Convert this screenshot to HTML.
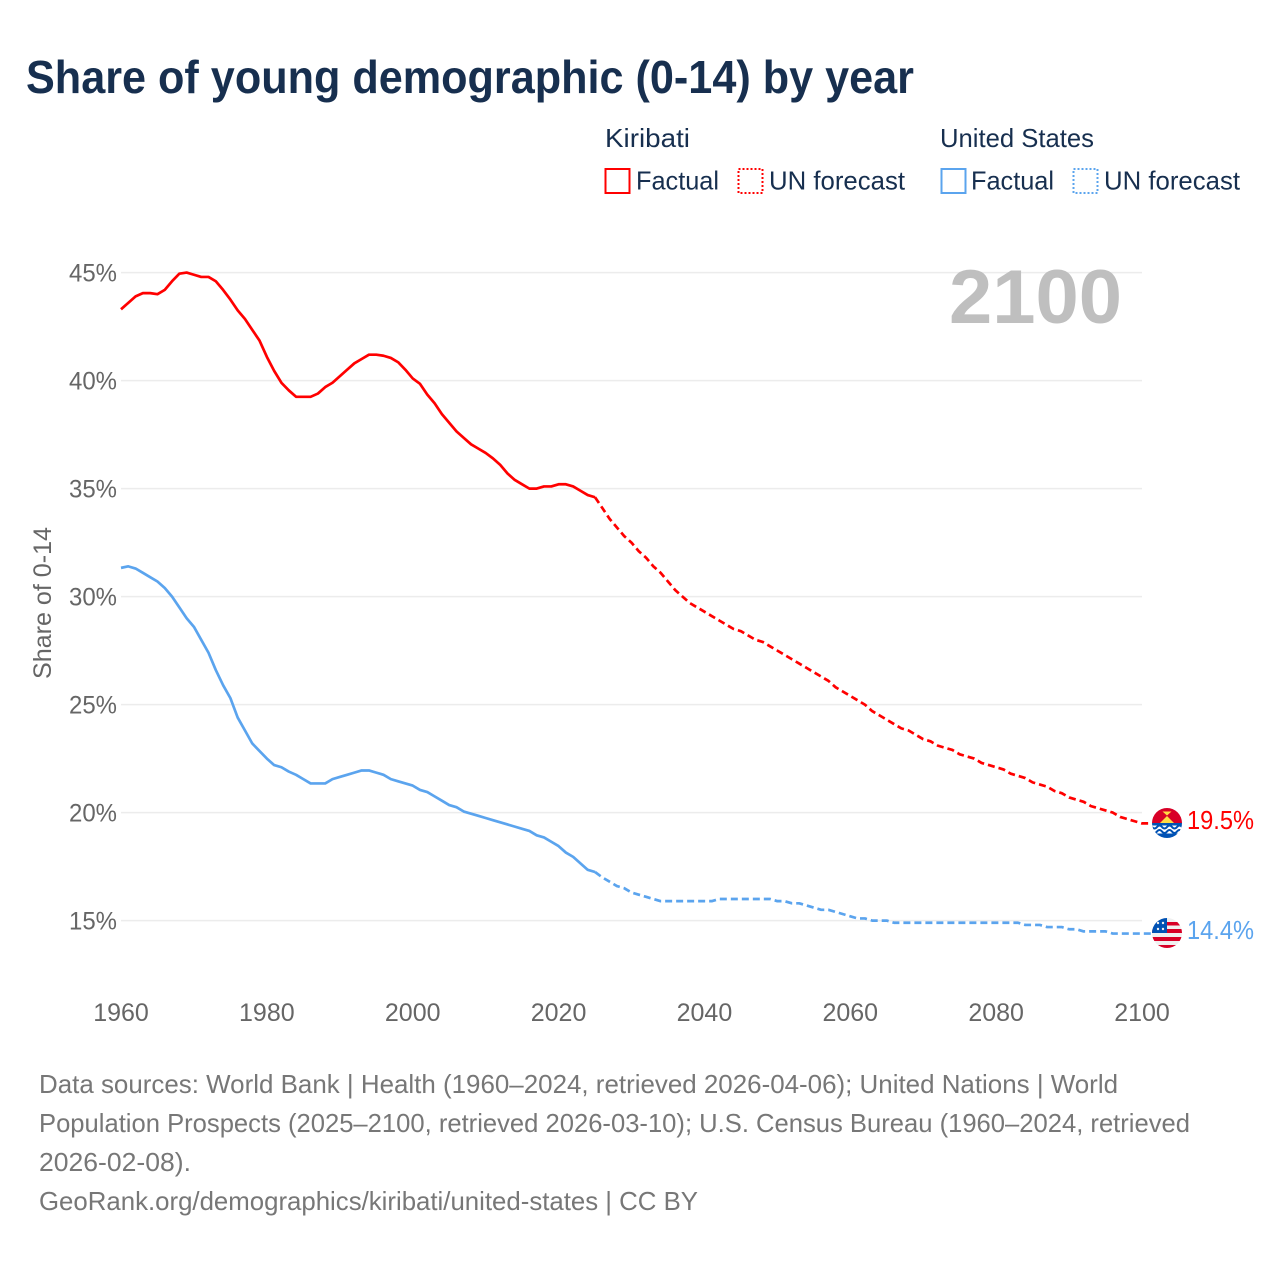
<!DOCTYPE html>
<html lang="en">
<head>
<meta charset="utf-8">
<title>Share of young demographic (0-14) by year</title>
<style>
html,body{margin:0;padding:0;background:#fff;}
svg{display:block;font-family:"Liberation Sans",sans-serif;}
</style>
</head>
<body>
<svg id="chart" xmlns="http://www.w3.org/2000/svg" width="1280" height="1280" viewBox="0 0 1280 1280">
  <defs>
    <clipPath id="clip-ki"><circle cx="1167" cy="823" r="15"/></clipPath>
    <clipPath id="clip-us"><circle cx="1167" cy="933" r="15"/></clipPath>
  </defs>
  <rect x="0" y="0" width="1280" height="1280" fill="#fff"/>
  <text x="26" y="93" font-size="46" font-weight="700" fill="#172f4f" textLength="888" lengthAdjust="spacingAndGlyphs">Share of young demographic (0-14) by year</text>

  <g font-size="26" fill="#172f4f">
    <text x="605" y="147" textLength="85" lengthAdjust="spacingAndGlyphs">Kiribati</text>
    <rect x="605.5" y="169" width="24" height="24" fill="none" stroke="#ff0000" stroke-width="2"/>
    <text x="636" y="189.5" textLength="83" lengthAdjust="spacingAndGlyphs">Factual</text>
    <rect x="738.5" y="169" width="24" height="24" fill="none" stroke="#ff0000" stroke-width="2" stroke-dasharray="2 2"/>
    <text x="769" y="189.5" textLength="136" lengthAdjust="spacingAndGlyphs">UN forecast</text>
    <text x="940" y="147" textLength="154" lengthAdjust="spacingAndGlyphs">United States</text>
    <rect x="941.5" y="169" width="24" height="24" fill="none" stroke="#5ba4ee" stroke-width="2"/>
    <text x="971" y="189.5" textLength="83" lengthAdjust="spacingAndGlyphs">Factual</text>
    <rect x="1073.5" y="169" width="24" height="24" fill="none" stroke="#5ba4ee" stroke-width="2" stroke-dasharray="2 2"/>
    <text x="1104" y="189.5" textLength="136" lengthAdjust="spacingAndGlyphs">UN forecast</text>
  </g>

  <g id="grid"></g>
  <g id="y-ticks"></g>
  <g id="x-ticks"></g>

  <text x="0" y="0" transform="translate(51 603) rotate(-90)" text-anchor="middle" font-size="25" fill="#666" textLength="152" lengthAdjust="spacingAndGlyphs">Share of 0-14</text>

  <text x="949" y="323" font-size="76" font-weight="700" fill="#bfbfbf" textLength="173" lengthAdjust="spacingAndGlyphs">2100</text>

  <g id="series"></g>

  <g clip-path="url(#clip-ki)">
    <rect x="1152" y="808" width="30" height="30" fill="#fff"/>
    <rect x="1152" y="808" width="30" height="15" fill="#d80027"/>
    <path d="M1160 823 L1167 816 L1174 823 Z" fill="#ffda44"/>
    <path d="M1162.500 811.500 L1171.500 811.500 L1167 815.500 Z" fill="#ffda44"/>
    <rect x="1152" y="823" width="30" height="2.500" fill="#0052b4"/>
    <path d="M1152 827 q2.500 3 5 0 t5 0 t5 0 t5 0 t5 0 t5 0" fill="none" stroke="#0052b4" stroke-width="2"/>
    <path d="M1152 831.500 q2.500 3 5 0 t5 0 t5 0 t5 0 t5 0 t5 0" fill="none" stroke="#0052b4" stroke-width="2"/>
    <rect x="1152" y="833.500" width="30" height="5" fill="#0052b4"/>
  </g>
  <g clip-path="url(#clip-us)">
    <rect x="1152" y="918" width="30" height="30" fill="#f0f0f0"/>
    <rect x="1152" y="929" width="30" height="4" fill="#d80027"/>
    <rect x="1152" y="937" width="30" height="4" fill="#d80027"/>
    <rect x="1152" y="945" width="30" height="4" fill="#d80027"/>
    <rect x="1167" y="922" width="15" height="3.500" fill="#d80027"/>
    <rect x="1152" y="918" width="15" height="15" fill="#0052b4"/>
    <circle cx="1158" cy="923" r="1.200" fill="#f0f0f0"/>
    <circle cx="1163" cy="923" r="1.200" fill="#f0f0f0"/>
    <circle cx="1158" cy="929" r="1.200" fill="#f0f0f0"/>
    <circle cx="1163" cy="929" r="1.200" fill="#f0f0f0"/>
  </g>

  <text x="1187" y="829" font-size="26" fill="#ff0000" textLength="67" lengthAdjust="spacingAndGlyphs">19.5%</text>
  <text x="1187" y="939" font-size="26" fill="#5ba4ee" textLength="67" lengthAdjust="spacingAndGlyphs">14.4%</text>

  <g font-size="26" fill="#777">
    <text x="39" y="1093" textLength="1079" lengthAdjust="spacingAndGlyphs">Data sources: World Bank | Health (1960–2024, retrieved 2026-04-06); United Nations | World</text>
    <text x="39" y="1132" textLength="1151" lengthAdjust="spacingAndGlyphs">Population Prospects (2025–2100, retrieved 2026-03-10); U.S. Census Bureau (1960–2024, retrieved</text>
    <text x="39" y="1171" textLength="152" lengthAdjust="spacingAndGlyphs">2026-02-08).</text>
    <text x="39" y="1210" textLength="659" lengthAdjust="spacingAndGlyphs">GeoRank.org/demographics/kiribati/united-states | CC BY</text>
  </g>
</svg>
<script>
const yTicks = [15, 20, 25, 30, 35, 40, 45];
const xTicks = [1960, 1980, 2000, 2020, 2040, 2060, 2080, 2100];
const factualStartYear = 1960;
const forecastStartYear = 2025;

const kiribatiFactual = [43.3,43.6,43.9,44.05,44.05,44.0,44.2,44.6,44.95,45.0,44.9,44.8,44.8,44.6,44.2,43.75,43.25,42.85,42.35,41.85,41.1,40.45,39.9,39.55,39.25,39.25,39.25,39.4,39.7,39.9,40.2,40.5,40.8,41.0,41.2,41.2,41.15,41.05,40.85,40.5,40.1,39.85,39.35,38.95,38.45,38.05,37.65,37.35,37.05,36.85,36.65,36.4,36.1,35.7,35.4,35.2,35.0,35.0,35.1,35.1,35.2,35.2,35.1,34.9,34.7,34.6];
const kiribatiForecast = [34.6,34.1,33.6,33.2,32.8,32.5,32.1,31.8,31.4,31.1,30.7,30.3,30.0,29.7,29.5,29.3,29.1,28.9,28.7,28.5,28.4,28.2,28.0,27.9,27.7,27.5,27.3,27.1,26.9,26.7,26.5,26.3,26.1,25.8,25.6,25.4,25.2,25.0,24.7,24.5,24.3,24.1,23.9,23.8,23.6,23.4,23.3,23.1,23.0,22.9,22.7,22.6,22.5,22.3,22.2,22.1,22.0,21.8,21.7,21.6,21.4,21.3,21.2,21.0,20.9,20.7,20.6,20.5,20.3,20.2,20.1,20.0,19.8,19.7,19.6,19.5];
const usFactual = [31.33,31.4,31.3,31.1,30.9,30.7,30.4,30.0,29.5,29.0,28.6,28.0,27.4,26.6,25.9,25.3,24.4,23.8,23.2,22.85,22.5,22.2,22.1,21.9,21.75,21.55,21.35,21.35,21.35,21.55,21.65,21.75,21.85,21.95,21.95,21.85,21.75,21.55,21.45,21.35,21.25,21.05,20.95,20.75,20.55,20.35,20.25,20.05,19.95,19.85,19.75,19.65,19.55,19.45,19.35,19.25,19.15,18.95,18.85,18.65,18.45,18.15,17.95,17.65,17.35,17.25];
const usForecast = [17.25,17.0,16.8,16.6,16.5,16.3,16.2,16.1,16.0,15.9,15.9,15.9,15.9,15.9,15.9,15.9,15.9,16.0,16.0,16.0,16.0,16.0,16.0,16.0,16.0,15.9,15.9,15.8,15.8,15.7,15.6,15.5,15.5,15.4,15.3,15.2,15.1,15.1,15.0,15.0,15.0,14.9,14.9,14.9,14.9,14.9,14.9,14.9,14.9,14.9,14.9,14.9,14.9,14.9,14.9,14.9,14.9,14.9,14.9,14.8,14.8,14.8,14.7,14.7,14.7,14.6,14.6,14.5,14.5,14.5,14.5,14.4,14.4,14.4,14.4,14.4];

const svgNS = 'http://www.w3.org/2000/svg';
function xScale(year) { return 121 + (year - 1960) * (1142 - 121) / 140; }
function yScale(pct) { return 272.6 + (45 - pct) * 21.6; }
function pathFrom(values, startYear, extendToFlag) {
  let d = values.map(function (v, i) {
    return (i ? 'L' : 'M') + xScale(startYear + i).toFixed(2) + ' ' + yScale(v).toFixed(2);
  }).join(' ');
  if (extendToFlag) {
    d += ' L1153 ' + yScale(values[values.length - 1]).toFixed(2);
  }
  return d;
}

const grid = document.getElementById('grid');
const yTickGroup = document.getElementById('y-ticks');
yTicks.forEach(function (t) {
  const line = document.createElementNS(svgNS, 'line');
  line.setAttribute('x1', xScale(1960));
  line.setAttribute('x2', xScale(2100));
  line.setAttribute('y1', yScale(t));
  line.setAttribute('y2', yScale(t));
  line.setAttribute('stroke', '#ececec');
  line.setAttribute('stroke-width', '1.5');
  
  
  grid.appendChild(line);

  const label = document.createElementNS(svgNS, 'text');
  label.setAttribute('x', 69);
  label.setAttribute('y', yScale(t) + 9);
  label.setAttribute('font-size', '25');
  label.setAttribute('fill', '#666');
  label.setAttribute('textLength', '48');
  label.setAttribute('lengthAdjust', 'spacingAndGlyphs');
  label.textContent = t + '%';
  
  
  yTickGroup.appendChild(label);
});

const xTickGroup = document.getElementById('x-ticks');
xTicks.forEach(function (t) {
  const label = document.createElementNS(svgNS, 'text');
  label.setAttribute('x', xScale(t));
  label.setAttribute('y', 1021);
  label.setAttribute('text-anchor', 'middle');
  label.setAttribute('font-size', '25');
  label.setAttribute('fill', '#666');
  label.textContent = t;
  
  
  xTickGroup.appendChild(label);
});

const seriesGroup = document.getElementById('series');
function drawLine(values, startYear, color, dashed, name) {
  const p = document.createElementNS(svgNS, 'path');
  p.setAttribute('d', pathFrom(values, startYear, dashed));
  p.setAttribute('fill', 'none');
  p.setAttribute('stroke', color);
  p.setAttribute('stroke-width', '2.7');
  p.setAttribute('stroke-linejoin', 'round');
  if (dashed) { p.setAttribute('stroke-dasharray', '7 4'); }
  
  
  seriesGroup.appendChild(p);
}
drawLine(usFactual, factualStartYear, '#5ba4ee', false, 'us-factual-line');
drawLine(usForecast, forecastStartYear, '#5ba4ee', true, 'us-forecast-line');
drawLine(kiribatiFactual, factualStartYear, '#ff0000', false, 'kiribati-factual-line');
drawLine(kiribatiForecast, forecastStartYear, '#ff0000', true, 'kiribati-forecast-line');
</script>
</body>
</html>
